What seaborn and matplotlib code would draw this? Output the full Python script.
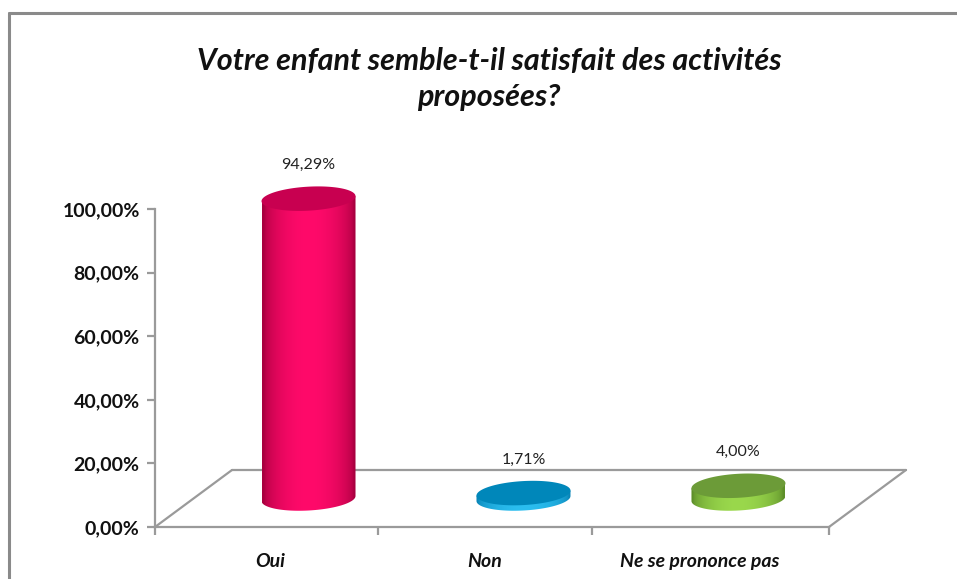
import numpy as np
import pandas as pd
import matplotlib
matplotlib.use("Agg")
import matplotlib.pyplot as plt
from matplotlib.patches import Polygon
from matplotlib.lines import Line2D
from matplotlib.colors import to_rgb
import seaborn as sns

# ---------------- data ----------------
categories = ["Oui", "Non", "Ne se prononce pas"]
values = [94.29, 1.71, 4.00]
yticks = [0, 20, 40, 60, 80, 100]
title = "Votre enfant semble-t-il satisfait des activités\nproposées?"

side_dark = ["#A8003F", "#0A86B8", "#5E8F2A"]
side_light = ["#FF0A6A", "#2BBEF0", "#9AD84C"]
top_cols = ["#C80050", "#0087BA", "#6C9B38"]

sns.set_theme(style="white")
plt.rcParams["font.family"] = ["Lato", "DejaVu Sans"]

W, H = 957, 579
fig = plt.figure(figsize=(W / 100, H / 100), dpi=100)
fig.patch.set_facecolor("white")

# axes placement in pixels (0% at 527 px, 100% at 209 px)
x_left_px, x_right_px = 155, 910
y0_px, y100_px = 527, 209
px_y = (y0_px - y100_px) / 100.0
YMIN, YMAX = 0, 130
y_top_px = y0_px - YMAX * px_y
ax = fig.add_axes([x_left_px / W, 1 - y0_px / H,
                   (x_right_px - x_left_px) / W, (y0_px - y_top_px) / H])
ax.set_facecolor("none")

XMIN, XMAX = -0.535, 2.977
px_x = (x_right_px - x_left_px) / (XMAX - XMIN)   # px per x unit

df = pd.DataFrame({"cat": categories, "val": values})
sns.barplot(data=df, x="cat", y="val", order=categories, ax=ax,
            width=94 / px_x, color="#FF0066", saturation=1)

# depth of floor
DX = 77 / px_x
DY = 57 / px_y
FRONT_R = 2.6
grey = "#9A9A9A"

# floor
ax.plot([XMIN, XMIN + DX], [0, DY], color=grey, lw=1.6, clip_on=False, zorder=1)
ax.plot([XMIN + DX, FRONT_R + DX], [DY, DY], color=grey, lw=1.6, clip_on=False, zorder=1)
ax.plot([FRONT_R, FRONT_R + DX], [0, DY], color=grey, lw=1.6, clip_on=False, zorder=1)

slope = (5 / 94) * px_x / px_y   # tilt of ellipses (data units)
b = 12 / px_y                     # ellipse half height

t_low = np.linspace(np.pi, 2 * np.pi, 80)
t_all = np.linspace(0, 2 * np.pi, 160)

for i, p in enumerate(ax.patches):
    x0, w, h = p.get_x(), p.get_width(), p.get_height()
    p.set_visible(False)
    a = w / 2
    cx = x0 + a + DX / 2
    base = DY / 2
    top = base + h
    # body path
    pts = [(cx - a, top - slope * a)]
    pts += [(cx + a * np.cos(t), base + b * np.sin(t) + slope * a * np.cos(t)) for t in t_low]
    pts += [(cx + a, top + slope * a)]
    body = Polygon(pts, closed=True, facecolor="none", edgecolor="none",
                   transform=ax.transData)
    ax.add_patch(body)
    # gradient
    u = np.linspace(0, 1, 256)
    f = np.clip(np.sin(np.pi * np.clip((u - 0.02) / 0.96, 0, 1)) ** 0.55, 0, 1)
    d = np.array(to_rgb(side_dark[i]))
    l = np.array(to_rgb(side_light[i]))
    grad = d[None, :] * (1 - f[:, None]) + l[None, :] * f[:, None]
    img = ax.imshow(grad[None, :, :], extent=(cx - a, cx + a, base - b - 2, top + b + 2),
                    aspect="auto", origin="lower", zorder=3, interpolation="bilinear")
    img.set_clip_path(body)
    # top ellipse
    tp = [(cx + a * np.cos(t), top + b * np.sin(t) + slope * a * np.cos(t)) for t in t_all]
    ax.add_patch(Polygon(tp, closed=True, facecolor=top_cols[i], edgecolor="none",
                         zorder=4, transform=ax.transData))
    # value label
    lab = f"{values[i]:.2f}".replace(".", ",") + "%"
    ax.text(cx, top + 10.5, lab, ha="center", va="center", fontsize=11.5,
            color="#222222", zorder=5)

ax.set_xlim(XMIN, XMAX)
ax.set_ylim(YMIN, YMAX)

# spines
for s in ["top", "right"]:
    ax.spines[s].set_visible(False)
ax.spines["left"].set_color(grey)
ax.spines["left"].set_linewidth(1.6)
ax.spines["left"].set_bounds(0, 100)
ax.spines["bottom"].set_color(grey)
ax.spines["bottom"].set_linewidth(1.6)
ax.spines["bottom"].set_bounds(XMIN, FRONT_R)

ax.set_yticks(yticks)
ax.set_yticklabels([f"{v:.2f}".replace(".", ",") + "%" for v in yticks],
                   fontsize=14, fontweight="bold", color="#111111")
ax.tick_params(axis="y", direction="out", length=6, width=1.6, color=grey, pad=5, left=True)

ax.set_xticks(range(len(categories)))
ax.set_xticklabels(categories, fontsize=14, fontweight="bold", fontstyle="italic",
                   color="#111111")
ax.tick_params(axis="x", which="major", length=0, pad=19)
ax.set_xticks([XMIN, 0.5, 1.5, FRONT_R], minor=True)
ax.tick_params(axis="x", which="minor", direction="out", length=6, width=1.6,
               color=grey, bottom=True)
ax.set_xlabel("")
ax.set_ylabel("")
ax.grid(False)

# title
fig.text(489 / W, 1 - 79 / H, title, ha="center", va="center", fontsize=22,
         fontweight="bold", fontstyle="italic", color="#111111", linespacing=1.32)

# chart frame (top and left visible)
fig.add_artist(Line2D([9 / W, 9 / W], [0, 1 - 13 / H], color="#8A8A8A", lw=2.2,
                      transform=fig.transFigure))
fig.add_artist(Line2D([9 / W, 1], [1 - 13 / H, 1 - 13 / H], color="#8A8A8A", lw=2.2,
                      transform=fig.transFigure))

fig.savefig("out.png", dpi=100)
